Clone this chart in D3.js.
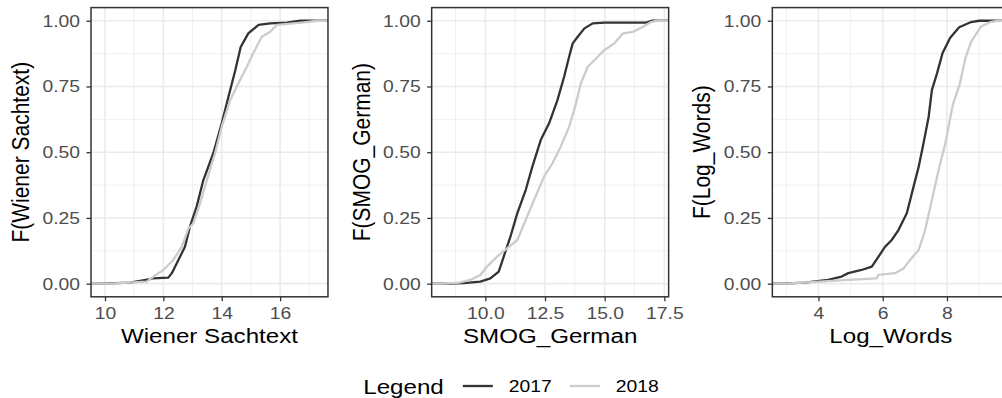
<!DOCTYPE html>
<html>
<head>
<meta charset="utf-8">
<script src="https://cdn.jsdelivr.net/npm/d3@7"></script>
<style>
  body { margin: 0; background: #fff; }
  svg { display: block; font-family: "Liberation Sans", Arial, Helvetica, sans-serif; }
</style>
</head>
<body>
<div class="wrapper"></div>
<script>
var seriesNames = ["2017", "2018"];
var seriesColors = ["#333333", "#cccccc"];

// ecdf knots [value, F]
var wiener2017 = [[9.89,0],[10.86,0.004],[11.54,0.017],[11.62,0.02],[12.17,0.023],[12.29,0.04],[12.46,0.078],[12.74,0.14],[12.91,0.217],[13.14,0.293],[13.37,0.394],[13.71,0.496],[14.0,0.61],[14.23,0.711],[14.46,0.81],[14.65,0.9],[14.91,0.952],[15.26,0.984],[15.66,0.99],[16.23,0.993],[16.69,1]];
var wiener2018 = [[10.2,0],[11.43,0.008],[11.66,0.027],[12.0,0.052],[12.34,0.09],[12.63,0.14],[12.86,0.21],[13.03,0.23],[13.26,0.306],[13.49,0.394],[13.77,0.496],[14.0,0.597],[14.29,0.698],[14.57,0.762],[14.86,0.825],[15.08,0.876],[15.37,0.939],[15.66,0.958],[15.89,0.984],[16.46,0.99],[16.9,0.995],[17.27,1]];

var smog2017 = [[8.5,0],[9.08,0.002],[9.79,0.008],[10.21,0.02],[10.56,0.046],[10.77,0.103],[11.05,0.179],[11.34,0.268],[11.69,0.356],[11.97,0.445],[12.32,0.546],[12.67,0.61],[13.02,0.698],[13.3,0.787],[13.51,0.863],[13.66,0.914],[13.87,0.939],[14.15,0.971],[14.5,0.99],[14.99,0.993],[16.75,0.993],[16.96,1]];
var smog2018 = [[8.2,0],[8.9,0.004],[9.37,0.014],[9.79,0.033],[10.07,0.065],[10.49,0.103],[10.92,0.135],[11.34,0.166],[11.69,0.242],[12.04,0.318],[12.46,0.407],[12.81,0.458],[13.16,0.521],[13.51,0.597],[13.8,0.686],[14.0,0.762],[14.29,0.825],[14.71,0.863],[14.99,0.889],[15.41,0.914],[15.77,0.952],[16.19,0.958],[16.61,0.977],[16.96,0.996],[17.23,1]];

var log2017 = [[2.9,0],[3.57,0.004],[4.3,0.014],[4.72,0.027],[4.93,0.04],[5.34,0.052],[5.66,0.065],[5.87,0.103],[6.07,0.14],[6.28,0.166],[6.49,0.204],[6.75,0.268],[6.96,0.369],[7.12,0.445],[7.27,0.534],[7.43,0.635],[7.53,0.736],[7.69,0.8],[7.86,0.876],[8.1,0.935],[8.38,0.975],[8.75,0.995],[9.0,1]];
var log2018 = [[3.0,0],[4.93,0.014],[5.81,0.02],[5.86,0.033],[6.38,0.04],[6.65,0.058],[6.85,0.09],[7.12,0.128],[7.32,0.204],[7.53,0.318],[7.74,0.432],[7.95,0.534],[8.18,0.68],[8.4,0.76],[8.58,0.86],[8.75,0.92],[9.05,0.977],[9.35,0.995],[9.6,1]];

var wienerDomain = [9.52, 17.64];
var smogDomain = [7.75, 17.68];
var logDomain = [2.565, 9.94];

var wienerTicks = [10, 12, 14, 16];
var wienerMinor = [11, 13, 15, 17];
var smogTicks = [10, 12.5, 15, 17.5];
var smogMinor = [8.75, 11.25, 13.75, 16.25];
var logTicks = [4, 6, 8];
var logMinor = [3, 5, 7, 9];

var yTicks = [0, 0.25, 0.5, 0.75, 1];
var yMinor = [0.125, 0.375, 0.625, 0.875];

var xTitles = ["Wiener Sachtext", "SMOG_German", "Log_Words"];
var yTitles = ["F(Wiener Sachtext)", "F(SMOG_German)", "F(Log_Words)"];
var legendTitle = "Legend";

var W = 1002, H = 398;
var sx = 1.15;          // picture is a bit wide, so text gets stretched
var subW = 340.67;
var m = { left: 91, right: 12.7, top: 7.6, bottom: 101.2 };
var pw = subW - m.left - m.right;
var ph = H - m.top - m.bottom;
var titleSize = 21, labelSize = 16.8;

var panels = [
  { domain: wienerDomain, ticks: wienerTicks, minor: wienerMinor, fmt: d3.format("d"), data: [wiener2017, wiener2018] },
  { domain: smogDomain, ticks: smogTicks, minor: smogMinor, fmt: d3.format(".1f"), data: [smog2017, smog2018] },
  { domain: logDomain, ticks: logTicks, minor: logMinor, fmt: d3.format("d"), data: [log2017, log2018] }
];

var svg = d3.select(".wrapper").append("svg").attr("width", W).attr("height", H);

var y = d3.scaleLinear().domain([-0.05, 1.05]).range([ph, 0]);

panels.forEach(function (p, i) {
  var x = d3.scaleLinear().domain(p.domain).range([0, pw]);
  var g = svg.append("g").attr("transform", "translate(" + (i * subW + m.left) + "," + m.top + ")");

  g.append("clipPath").attr("id", "clip" + i)
    .append("rect").attr("width", pw).attr("height", ph);

  var grid = g.append("g").attr("stroke", "#ebebeb");
  grid.selectAll("line.ym").data(yMinor).enter().append("line")
    .attr("x1", 0).attr("x2", pw).attr("y1", y).attr("y2", y).attr("stroke-width", 0.8);
  grid.selectAll("line.xm").data(p.minor.filter(function (d) { return d > p.domain[0] && d < p.domain[1]; }))
    .enter().append("line")
    .attr("y1", 0).attr("y2", ph).attr("x1", x).attr("x2", x).attr("stroke-width", 0.8);
  grid.selectAll("line.yM").data(yTicks).enter().append("line")
    .attr("x1", 0).attr("x2", pw).attr("y1", y).attr("y2", y).attr("stroke-width", 1.6);
  grid.selectAll("line.xM").data(p.ticks).enter().append("line")
    .attr("y1", 0).attr("y2", ph).attr("x1", x).attr("x2", x).attr("stroke-width", 1.6);

  var line = d3.line().x(function (d) { return x(d[0]); }).y(function (d) { return y(d[1]); });

  g.append("g").attr("clip-path", "url(#clip" + i + ")")
    .selectAll("path").data(p.data).enter().append("path")
    .attr("fill", "none")
    .attr("stroke", function (d, j) { return seriesColors[j]; })
    .attr("stroke-width", 2.3)
    .attr("stroke-linejoin", "round")
    .attr("d", function (d) {
      // ecdf is padded out to both panel edges
      return line([[p.domain[0], 0]].concat(d, [[p.domain[1], 1]]));
    });

  g.append("rect").attr("width", pw).attr("height", ph)
    .attr("fill", "none").attr("stroke", "#333333").attr("stroke-width", 1.5);

  var xa = g.append("g").attr("transform", "translate(0," + ph + ")")
    .call(d3.axisBottom(x).tickValues(p.ticks).tickFormat(p.fmt).tickSize(4.5).tickPadding(6));
  var ya = g.append("g")
    .call(d3.axisLeft(y).tickValues(yTicks).tickFormat(d3.format(".2f")).tickSize(4.5).tickPadding(6.5));

  [xa, ya].forEach(function (a) {
    a.select(".domain").remove();
    a.selectAll(".tick line").attr("stroke", "#333333").attr("stroke-width", 1.3);
    a.selectAll(".tick text").attr("fill", "#4d4d4d")
      .style("font-size", labelSize + "px").attr("font-family", null);
  });
  xa.selectAll(".tick text").attr("transform", "scale(" + sx + ",1)");
  ya.selectAll(".tick text").attr("x", -11 / sx).attr("transform", "scale(" + sx + ",1)");

  g.append("text")
    .attr("transform", "translate(" + (pw / 2) + "," + (H - 55 - m.top) + ") scale(" + sx + ",1)")
    .attr("text-anchor", "middle").style("font-size", titleSize + "px").attr("fill", "#000")
    .text(xTitles[i]);

  g.append("text")
    .attr("transform", "translate(" + (29 - m.left) + "," + (ph / 2) + ") scale(" + sx + ",1) rotate(-90)")
    .attr("text-anchor", "middle").style("font-size", titleSize + "px").attr("fill", "#000")
    .text(yTitles[i]);
});

// legend, centred under the full (uncropped) figure
var leg = svg.append("g");
var ly = 386;
var lt = leg.append("text").attr("y", ly).attr("dy", "0.36em")
  .style("font-size", titleSize + "px").text(legendTitle);
var items = seriesNames.map(function (s, j) {
  var it = leg.append("g");
  it.append("line").attr("x1", 0).attr("x2", 30).attr("y1", ly).attr("y2", ly)
    .attr("stroke", seriesColors[j]).attr("stroke-width", 2.3);
  it.append("text").attr("y", ly).attr("dy", "0.36em").style("font-size", labelSize + "px").text(s);
  return it;
});

var ltW = lt.node().getComputedTextLength() * sx;
var labW = items.map(function (it) { return it.select("text").node().getComputedTextLength() * sx; });
var total = ltW + 19 + d3.sum(labW, function (w) { return 30 + 16 + w; }) + 18;
var cx = (3 * subW) / 2 - total / 2;

lt.attr("transform", "translate(" + cx + ",0) scale(" + sx + ",1)");
cx += ltW + 19;
items.forEach(function (it, j) {
  it.attr("transform", "translate(" + cx + ",0)");
  it.select("text").attr("transform", "translate(46,0) scale(" + sx + ",1)");
  cx += 30 + 16 + labW[j] + 18;
});
</script>
</body>
</html>
